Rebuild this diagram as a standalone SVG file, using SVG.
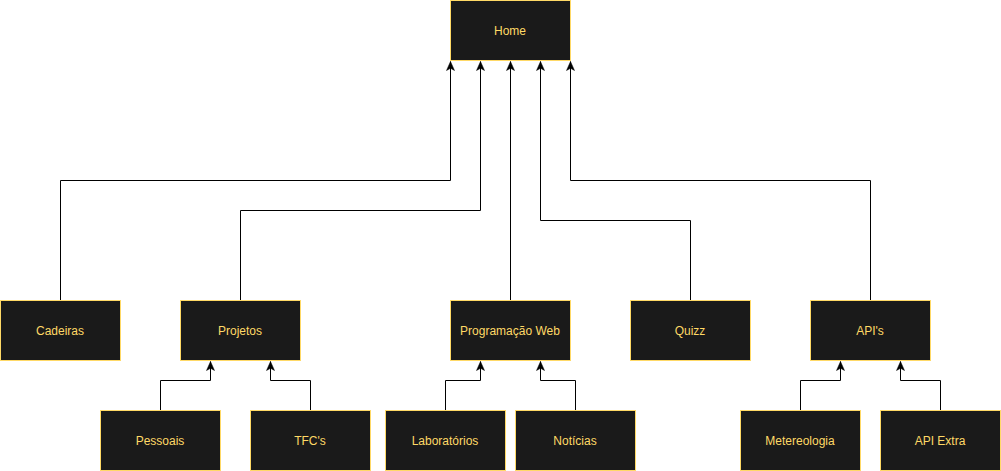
<svg xmlns="http://www.w3.org/2000/svg" width="1001" height="471" viewBox="0 0 1001 471">
<style>
.n rect{fill:#1a1a1a;stroke:#ffd966;stroke-width:1}
.n text{fill:#ffd966;font-family:"Liberation Sans",Arial,sans-serif;font-size:12px;text-anchor:middle;dominant-baseline:central}
.c path{fill:none;stroke:#000;stroke-width:1;marker-end:url(#a)}
</style>
<defs>
<marker id="a" markerUnits="userSpaceOnUse" markerWidth="11" markerHeight="11" viewBox="0 0 11 11" refX="10" refY="5.5" orient="auto">
<path d="M1,1.5 L10,5.5 L1,9.5 L3.2,5.5 Z" fill="#000" stroke="#000" stroke-width="0.5"/>
</marker>
</defs>
<rect width="1001" height="471" fill="#fff"/>
<g id="connectors" class="c">
<path d="M60.5,300 V180.5 H450.5 V61.5"/>
<path d="M240.5,300 V210.5 H480.5 V61.5"/>
<path d="M510.5,300 V61.5"/>
<path d="M690.5,300 V220.5 H540.5 V61.5"/>
<path d="M870.5,300 V180.5 H570.5 V61.5"/>
<path d="M160.5,410 V380.5 H210.5 V361.5"/>
<path d="M310.5,410 V380.5 H270.5 V361.5"/>
<path d="M445.5,410 V380.5 H480.5 V361.5"/>
<path d="M575.5,410 V380.5 H540.5 V361.5"/>
<path d="M800.5,410 V380.5 H840.5 V361.5"/>
<path d="M940.5,410 V380.5 H900.5 V361.5"/>
</g>
<g id="home" class="n"><rect x="450.5" y="0.5" width="120" height="60"/><text x="510" y="30.5">Home</text></g>
<g id="cadeiras" class="n"><rect x="0.5" y="300.5" width="120" height="60"/><text x="60" y="330.5">Cadeiras</text></g>
<g id="projetos" class="n"><rect x="180.5" y="300.5" width="120" height="60"/><text x="240" y="330.5">Projetos</text></g>
<g id="progweb" class="n"><rect x="450.5" y="300.5" width="120" height="60"/><text x="510" y="330.5">Programação Web</text></g>
<g id="quizz" class="n"><rect x="630.5" y="300.5" width="120" height="60"/><text x="690" y="330.5">Quizz</text></g>
<g id="apis" class="n"><rect x="810.5" y="300.5" width="120" height="60"/><text x="870" y="330.5">API's</text></g>
<g id="pessoais" class="n"><rect x="100.5" y="410.5" width="120" height="60"/><text x="160" y="440.5">Pessoais</text></g>
<g id="tfcs" class="n"><rect x="250.5" y="410.5" width="120" height="60"/><text x="310" y="440.5">TFC's</text></g>
<g id="laboratorios" class="n"><rect x="385.5" y="410.5" width="120" height="60"/><text x="445" y="440.5">Laboratórios</text></g>
<g id="noticias" class="n"><rect x="515.5" y="410.5" width="120" height="60"/><text x="575" y="440.5">Notícias</text></g>
<g id="metereologia" class="n"><rect x="740.5" y="410.5" width="120" height="60"/><text x="800" y="440.5">Metereologia</text></g>
<g id="apiextra" class="n"><rect x="880.5" y="410.5" width="120" height="60"/><text x="940" y="440.5">API Extra</text></g>
</svg>
